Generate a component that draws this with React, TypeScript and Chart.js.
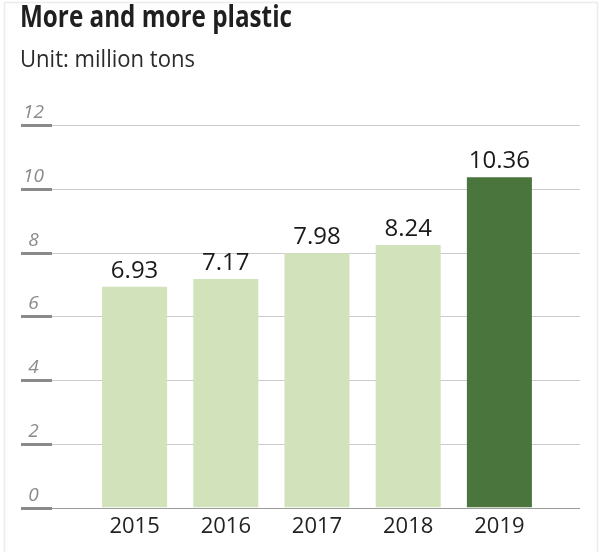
import React, { useEffect, useRef } from "react";
import { Chart, registerables } from "chart.js";

Chart.register(...registerables);

// ---- data ----
const years = ["2015", "2016", "2017", "2018", "2019"];
const plasticMillionTons = [6.93, 7.17, 7.98, 8.24, 10.36];
const yTickValues = [0, 2, 4, 6, 8, 10, 12];
const titleText = "More and more plastic";
const subtitleText = "Unit: million tons";

// ---- styles ----
const LIGHT_GREEN = "#d2e2bb";
const DARK_GREEN = "#4a763e";
const FONT = "'Open Sans', 'Noto Sans', sans-serif";

function drawFitted(ctx: CanvasRenderingContext2D, text: string, x: number, y: number, font: string, width: number, color: string) {
  ctx.save();
  ctx.font = font;
  ctx.fillStyle = color;
  ctx.textAlign = "left";
  ctx.textBaseline = "alphabetic";
  const w = ctx.measureText(text).width;
  const s = width / w;
  ctx.translate(x, y);
  ctx.scale(s, 1);
  ctx.fillText(text, 0, 0);
  ctx.restore();
}

const decorPlugin = {
  id: "decor",
  beforeDraw(chart: any) {
    const ctx: CanvasRenderingContext2D = chart.ctx;
    ctx.save();
    ctx.fillStyle = "#ffffff";
    ctx.fillRect(0, 0, chart.width, chart.height);
    ctx.strokeStyle = "#ececec";
    ctx.lineWidth = 1.5;
    ctx.beginPath();
    ctx.moveTo(4.5, 552);
    ctx.lineTo(4.5, 2.5);
    ctx.lineTo(597.5, 2.5);
    ctx.lineTo(597.5, 552);
    ctx.stroke();
    ctx.restore();
    drawFitted(ctx, titleText, 20, 27, `bold 30px ${FONT}`, 272, "#1f1f1f");
    drawFitted(ctx, subtitleText, 20, 66.5, `23px ${FONT}`, 175, "#2a2a2a");
  },
  beforeDatasetsDraw(chart: any) {
    const ctx: CanvasRenderingContext2D = chart.ctx;
    const y = chart.scales.y;
    const ticks = y.ticks && y.ticks.length ? y.ticks.map((t: any) => t.value) : yTickValues;
    ctx.save();
    for (const v of ticks) {
      const py = Math.round(y.getPixelForValue(v)) + 0.5;
      if (v !== 0) {
        ctx.strokeStyle = "#cccccc";
        ctx.lineWidth = 1;
        ctx.beginPath();
        ctx.moveTo(52, py);
        ctx.lineTo(580, py);
        ctx.stroke();
      }
      ctx.strokeStyle = "#8a8a8a";
      ctx.lineWidth = 3;
      ctx.beginPath();
      ctx.moveTo(21, py);
      ctx.lineTo(52, py);
      ctx.stroke();
      ctx.fillStyle = "#8a8a8a";
      ctx.font = `italic 19px ${FONT}`;
      ctx.textAlign = "center";
      ctx.textBaseline = "alphabetic";
      ctx.fillText(String(v), 33.5, py - 8);
    }
    ctx.restore();
  },
  afterDatasetsDraw(chart: any) {
    const ctx: CanvasRenderingContext2D = chart.ctx;
    const y = chart.scales.y;
    const py = Math.round(y.getPixelForValue(0)) + 0.5;
    ctx.save();
    ctx.strokeStyle = "#9a9a9a";
    ctx.lineWidth = 1.2;
    ctx.beginPath();
    ctx.moveTo(52, py);
    ctx.lineTo(580, py);
    ctx.stroke();
    const meta = chart.getDatasetMeta(0);
    ctx.fillStyle = "#1a1a1a";
    ctx.font = `24px ${FONT}`;
    ctx.textAlign = "center";
    ctx.textBaseline = "alphabetic";
    meta.data.forEach((bar: any, i: number) => {
      const v = chart.data.datasets[0].data[i];
      ctx.fillText(Number(v).toFixed(2), bar.x, bar.y - 9);
    });
    ctx.restore();
  },
};

export default function App() {
  const canvasRef = useRef<HTMLCanvasElement | null>(null);

  useEffect(() => {
    if (!canvasRef.current) return;
    const chart = new Chart(canvasRef.current, {
      type: "bar",
      data: {
        labels: years,
        datasets: [
          {
            data: plasticMillionTons,
            backgroundColor: (c: any) => (c.dataIndex === years.length - 1 ? DARK_GREEN : LIGHT_GREEN),
            borderWidth: 0,
            barPercentage: 0.713,
            categoryPercentage: 1,
          },
        ],
      },
      options: {
        responsive: false,
        animation: false,
        devicePixelRatio: 1,
        layout: { padding: { left: 89, right: 55, top: 125, bottom: 6 } },
        plugins: {
          legend: { display: false },
          title: { display: false },
          tooltip: { enabled: false },
        },
        scales: {
          x: {
            grid: { display: false, drawTicks: false },
            border: { display: false },
            ticks: { color: "#222222", font: { family: FONT, size: 22 }, padding: 6 },
          },
          y: {
            display: false,
            min: 0,
            max: 12,
            ticks: { stepSize: 2 },
          },
        },
      },
      plugins: [decorPlugin],
    });
    return () => chart.destroy();
  }, []);

  return (
    <div style={{ position: "absolute", left: 0, top: 0, width: 600, height: 552, background: "#fff" }}>
      <canvas ref={canvasRef} width={600} height={552} style={{ display: "block", width: 600, height: 552 }} />
    </div>
  );
}
